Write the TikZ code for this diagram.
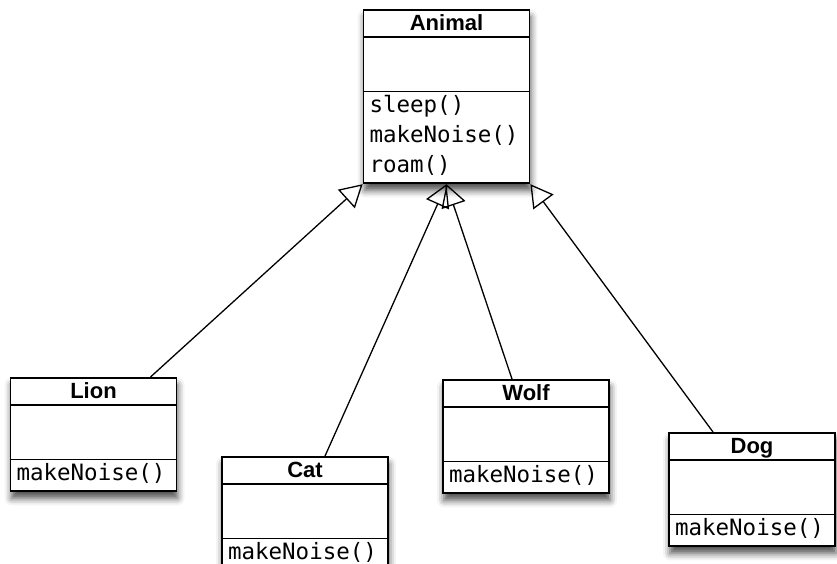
\documentclass[tikz,border=0pt]{standalone}
\usepackage{fontspec}
\newfontfamily\classfont{Liberation Sans}
\newfontfamily\opfont{DejaVu Sans Mono}
\usetikzlibrary{shapes.multipart,arrows.meta,shadows.blur}
\newcommand{\op}[1]{\rule[-10pt]{0pt}{30pt}#1}
\newcommand{\cname}[1]{\hfil{\classfont\bfseries\fontsize{22}{25}\selectfont #1}\rule[-5pt]{0pt}{25pt}}

\begin{document}
\begin{tikzpicture}[x=1pt,y=-1pt,
    every node/.style={draw,line width=1.8pt},
    umlclass/.style={rectangle split,rectangle split parts=3,fill=white,
      text width=154pt,inner xsep=6pt,inner ysep=0pt,align=left,anchor=north,
      font=\opfont\fontsize{22.5}{30}\selectfont,
      blur shadow={shadow xshift=1pt,shadow yshift=-7pt,shadow blur radius=7pt,shadow opacity=70}},
    inherit/.style={-{Triangle[open,length=22pt,width=25pt]},line width=1.3pt}
    ]
    \useasboundingbox (0,0) rectangle (837,563);

    \node[umlclass] (animal) at (446.5,9)
      {\cname{Animal}\nodepart{two}\rule{0pt}{53pt}
       \nodepart{three}\op{sleep()}\\\op{makeNoise()}\\\op{roam()}};
    \node[umlclass] (lion) at (93.5,377)
      {\cname{Lion}\nodepart{two}\rule{0pt}{53pt}\nodepart{three}\op{makeNoise()}};
    \node[umlclass] (cat) at (305,456)
      {\cname{Cat}\nodepart{two}\rule{0pt}{53pt}\nodepart{three}\op{makeNoise()}};
    \node[umlclass] (wolf) at (526,379)
      {\cname{Wolf}\nodepart{two}\rule{0pt}{53pt}\nodepart{three}\op{makeNoise()}};
    \node[umlclass] (dog) at (752,432)
      {\cname{Dog}\nodepart{two}\rule{0pt}{53pt}\nodepart{three}\op{makeNoise()}};

    % subclasses point at the superclass
    \draw[inherit] ([xshift=57pt]lion.north) -- (animal.south west);
    \draw[inherit] ([xshift=20pt]cat.north) -- (animal.south);
    \draw[inherit] ([xshift=-14pt]wolf.north) -- (animal.south);
    \draw[inherit] ([xshift=-39pt]dog.north) -- (animal.south east);
\end{tikzpicture}
\end{document}
